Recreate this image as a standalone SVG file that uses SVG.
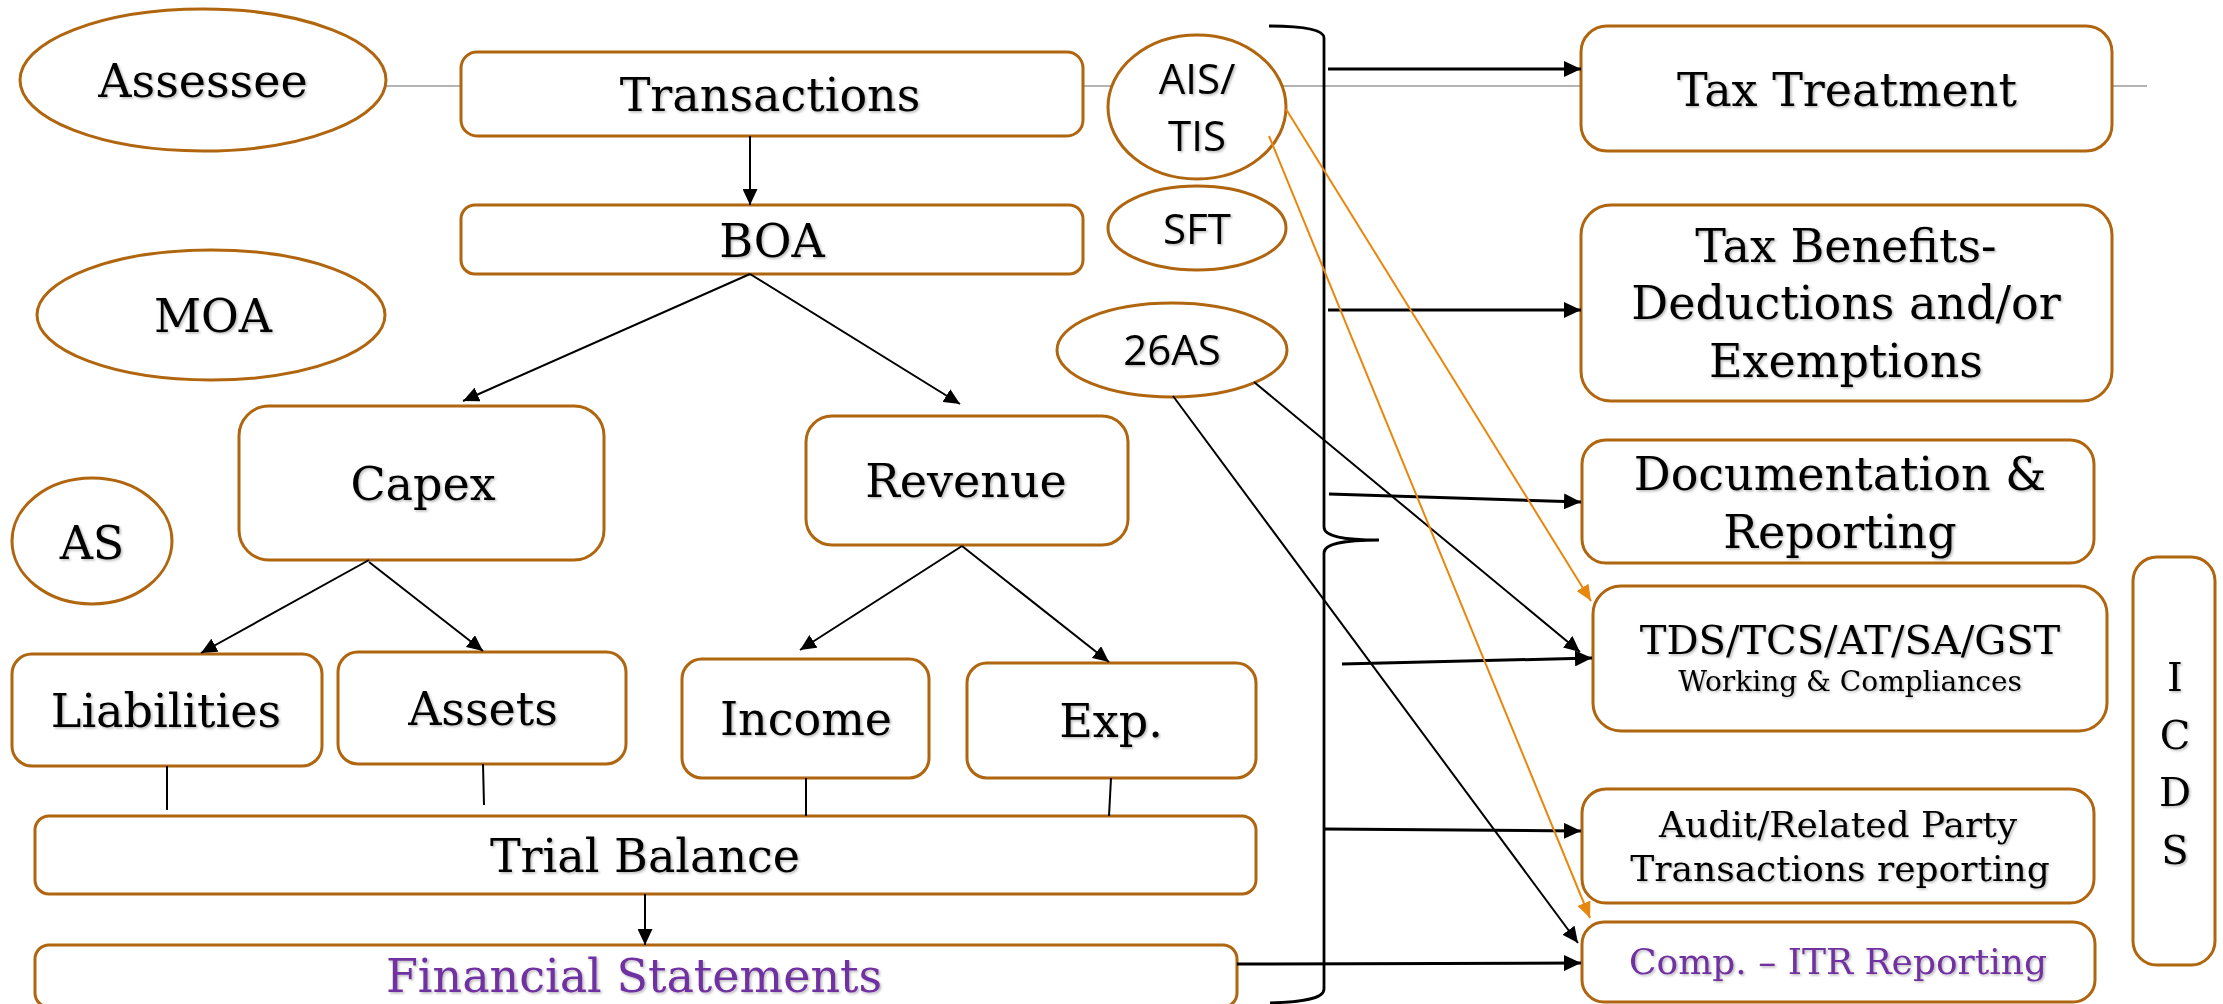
<svg xmlns="http://www.w3.org/2000/svg" width="2223" height="1004" viewBox="0 0 2223 1004">
  <style>
    .node { fill: #ffffff; stroke: #B0650F; stroke-width: 3; }
    .lbl { font-family: "DejaVu Serif", "Liberation Serif", serif; font-size: 46px; fill: #000; text-anchor: middle; filter: url(#sh); }
    .sans { font-family: "Open Sans", "Liberation Sans", sans-serif; font-size: 42px; fill: #000; text-anchor: middle; filter: url(#sh); }
    .purple { fill: #7030A0; }
    .wire { fill: none; stroke: #000; stroke-width: 2; }
    .wire.thick { stroke-width: 3; }
    .orange { fill: none; stroke: #E8870E; stroke-width: 2; }
    .guide { fill: none; stroke: #9a9a9a; stroke-width: 1.5; }
    .brace { fill: none; stroke: #000; stroke-width: 2.8; }
  </style>
  <defs>
    <filter id="sh" x="-5%" y="-20%" width="110%" height="140%">
      <feDropShadow dx="1.5" dy="1.5" stdDeviation="1" flood-color="#000" flood-opacity="0.28"/>
    </filter>
    <marker id="ah" markerUnits="userSpaceOnUse" markerWidth="16" markerHeight="15" refX="16" refY="7.5" orient="auto">
      <path d="M0,0 L16,7.5 L0,15 z" fill="#000"/>
    </marker>
    <marker id="ahBig" markerUnits="userSpaceOnUse" markerWidth="17" markerHeight="16" refX="17" refY="8" orient="auto">
      <path d="M0,0 L17,8 L0,16 z" fill="#000"/>
    </marker>
    <marker id="ahOr" markerUnits="userSpaceOnUse" markerWidth="16" markerHeight="14" refX="16" refY="7" orient="auto">
      <path d="M0,0 L16,7 L0,14 z" fill="#E8870E"/>
    </marker>
  </defs>

  <rect width="2223" height="1004" fill="#ffffff"/>

  <!-- thin guide rule running behind the top row -->
  <line class="guide" x1="386" y1="86" x2="2147" y2="86"/>

  <!-- left column: accounting flow -->
  <g id="assessee"><ellipse class="node" cx="203" cy="80" rx="183" ry="71"/><text class="lbl" x="203" y="97">Assessee</text></g>
  <g id="moa"><ellipse class="node" cx="211" cy="315" rx="174" ry="65"/><text class="lbl" x="213" y="332">MOA</text></g>
  <g id="as"><ellipse class="node" cx="92" cy="541" rx="80" ry="63"/><text class="lbl" x="92" y="559">AS</text></g>

  <g id="transactions"><rect class="node" x="461" y="52" width="622" height="84" rx="16"/><text class="lbl" x="770" y="111">Transactions</text></g>
  <g id="boa"><rect class="node" x="461" y="205" width="622" height="69" rx="14"/><text class="lbl" x="772" y="257">BOA</text></g>
  <g id="capex"><rect class="node" x="239" y="406" width="365" height="154" rx="30"/><text class="lbl" x="423" y="500">Capex</text></g>
  <g id="revenue"><rect class="node" x="806" y="416" width="322" height="129" rx="26"/><text class="lbl" x="966" y="497">Revenue</text></g>
  <g id="liabilities"><rect class="node" x="12" y="654" width="310" height="112" rx="20"/><text class="lbl" x="166" y="727">Liabilities</text></g>
  <g id="assets"><rect class="node" x="338" y="652" width="288" height="112" rx="20"/><text class="lbl" x="483" y="725">Assets</text></g>
  <g id="income"><rect class="node" x="682" y="659" width="247" height="119" rx="20"/><text class="lbl" x="806" y="735">Income</text></g>
  <g id="exp"><rect class="node" x="967" y="663" width="289" height="115" rx="20"/><text class="lbl" x="1111" y="737">Exp.</text></g>
  <g id="trial-balance"><rect class="node" x="35" y="816" width="1221" height="78" rx="14"/><text class="lbl" x="645" y="872">Trial Balance</text></g>
  <g id="financial-statements"><rect class="node" x="35" y="945" width="1202" height="62" rx="14"/><text class="lbl purple" x="634" y="992">Financial Statements</text></g>

  <!-- statement sources -->
  <g id="ais-tis"><ellipse class="node" cx="1197" cy="107" rx="89" ry="72"/><text class="sans" x="1197" y="94">AIS/</text><text class="sans" x="1197" y="151">TIS</text></g>
  <g id="sft"><ellipse class="node" cx="1197" cy="228" rx="89" ry="42"/><text class="sans" x="1197" y="244">SFT</text></g>
  <g id="as26"><ellipse class="node" cx="1172" cy="350" rx="115" ry="47"/><text class="sans" x="1172" y="365">26AS</text></g>

  <!-- grouping brace -->
  <g id="brace">
    <path class="brace" d="M1269,26 C1302,26 1324,29 1324,38 L1324,527 C1324,536 1342,540 1379,540 C1342,540 1324,544 1324,553 L1324,989 C1324,999 1302,1002 1270,1003"/>
  </g>

  <!-- right column: tax outcomes -->
  <g id="tax-treatment"><rect class="node" x="1581" y="26" width="531" height="125" rx="26"/><text class="lbl" x="1847" y="106">Tax Treatment</text></g>
  <g id="tax-benefits"><rect class="node" x="1581" y="205" width="531" height="196" rx="30"/>
    <text class="lbl" x="1846" y="262">Tax Benefits-</text>
    <text class="lbl" x="1846" y="319">Deductions and/or</text>
    <text class="lbl" x="1846" y="377">Exemptions</text>
  </g>
  <g id="documentation"><rect class="node" x="1582" y="440" width="512" height="123" rx="24"/>
    <text class="lbl" x="1840" y="490">Documentation &amp;</text>
    <text class="lbl" x="1840" y="548">Reporting</text>
  </g>
  <g id="tds-tcs"><rect class="node" x="1593" y="586" width="514" height="145" rx="28"/>
    <text class="lbl" x="1850" y="654" style="font-size:40px">TDS/TCS/AT/SA/GST</text>
    <text class="lbl" x="1850" y="691" style="font-size:28px">Working &amp; Compliances</text>
  </g>
  <g id="audit"><rect class="node" x="1582" y="789" width="512" height="114" rx="24"/>
    <text class="lbl" x="1838" y="837" style="font-size:36px">Audit/Related Party</text>
    <text class="lbl" x="1840" y="881" style="font-size:36px">Transactions reporting</text>
  </g>
  <g id="comp-itr"><rect class="node" x="1582" y="922" width="513" height="80" rx="22"/>
    <text class="lbl purple" x="1838" y="974" style="font-size:36px">Comp. – ITR Reporting</text>
  </g>
  <g id="icds"><rect class="node" x="2133" y="557" width="82" height="408" rx="24"/>
    <text class="lbl" x="2175" y="691" style="font-size:40px">I</text>
    <text class="lbl" x="2175" y="749" style="font-size:40px">C</text>
    <text class="lbl" x="2175" y="806" style="font-size:40px">D</text>
    <text class="lbl" x="2175" y="864" style="font-size:40px">S</text>
  </g>

  <!-- connectors -->
  <g id="connectors">
    <path class="wire" d="M750,136 L750,205" marker-end="url(#ah)"/>
    <path class="wire" d="M750,274 L463,401" marker-end="url(#ah)"/>
    <path class="wire" d="M750,274 L960,404" marker-end="url(#ah)"/>
    <path class="wire" d="M369,560 L201,653" marker-end="url(#ah)"/>
    <path class="wire" d="M369,562 L483,651" marker-end="url(#ah)"/>
    <path class="wire" d="M962,546 L800,650" marker-end="url(#ah)"/>
    <path class="wire" d="M962,546 L1109,662" marker-end="url(#ah)"/>
    <path class="wire" d="M167,766 L167,810"/>
    <path class="wire" d="M483,764 L484,805"/>
    <path class="wire" d="M806,778 L806,816"/>
    <path class="wire" d="M1111,778 L1109,816"/>
    <path class="wire" d="M645,894 L645,945" marker-end="url(#ah)"/>

    <path class="wire thick" d="M1328,69 L1581,69" marker-end="url(#ahBig)"/>
    <path class="wire thick" d="M1328,310 L1581,310" marker-end="url(#ahBig)"/>
    <path class="wire thick" d="M1329,494 L1581,502" marker-end="url(#ahBig)"/>
    <path class="wire thick" d="M1342,664 L1592,658" marker-end="url(#ahBig)"/>
    <path class="wire thick" d="M1324,829 L1581,831" marker-end="url(#ahBig)"/>
    <path class="wire thick" d="M1237,964 L1581,963" marker-end="url(#ahBig)"/>

    <path class="wire" d="M1254,382 L1580,652" marker-end="url(#ah)"/>
    <path class="wire" d="M1173,396 L1578,943" marker-end="url(#ah)"/>

    <path class="orange" d="M1286,109 L1591,601" marker-end="url(#ahOr)"/>
    <path class="orange" d="M1269,136 L1590,918" marker-end="url(#ahOr)"/>
  </g>
</svg>
